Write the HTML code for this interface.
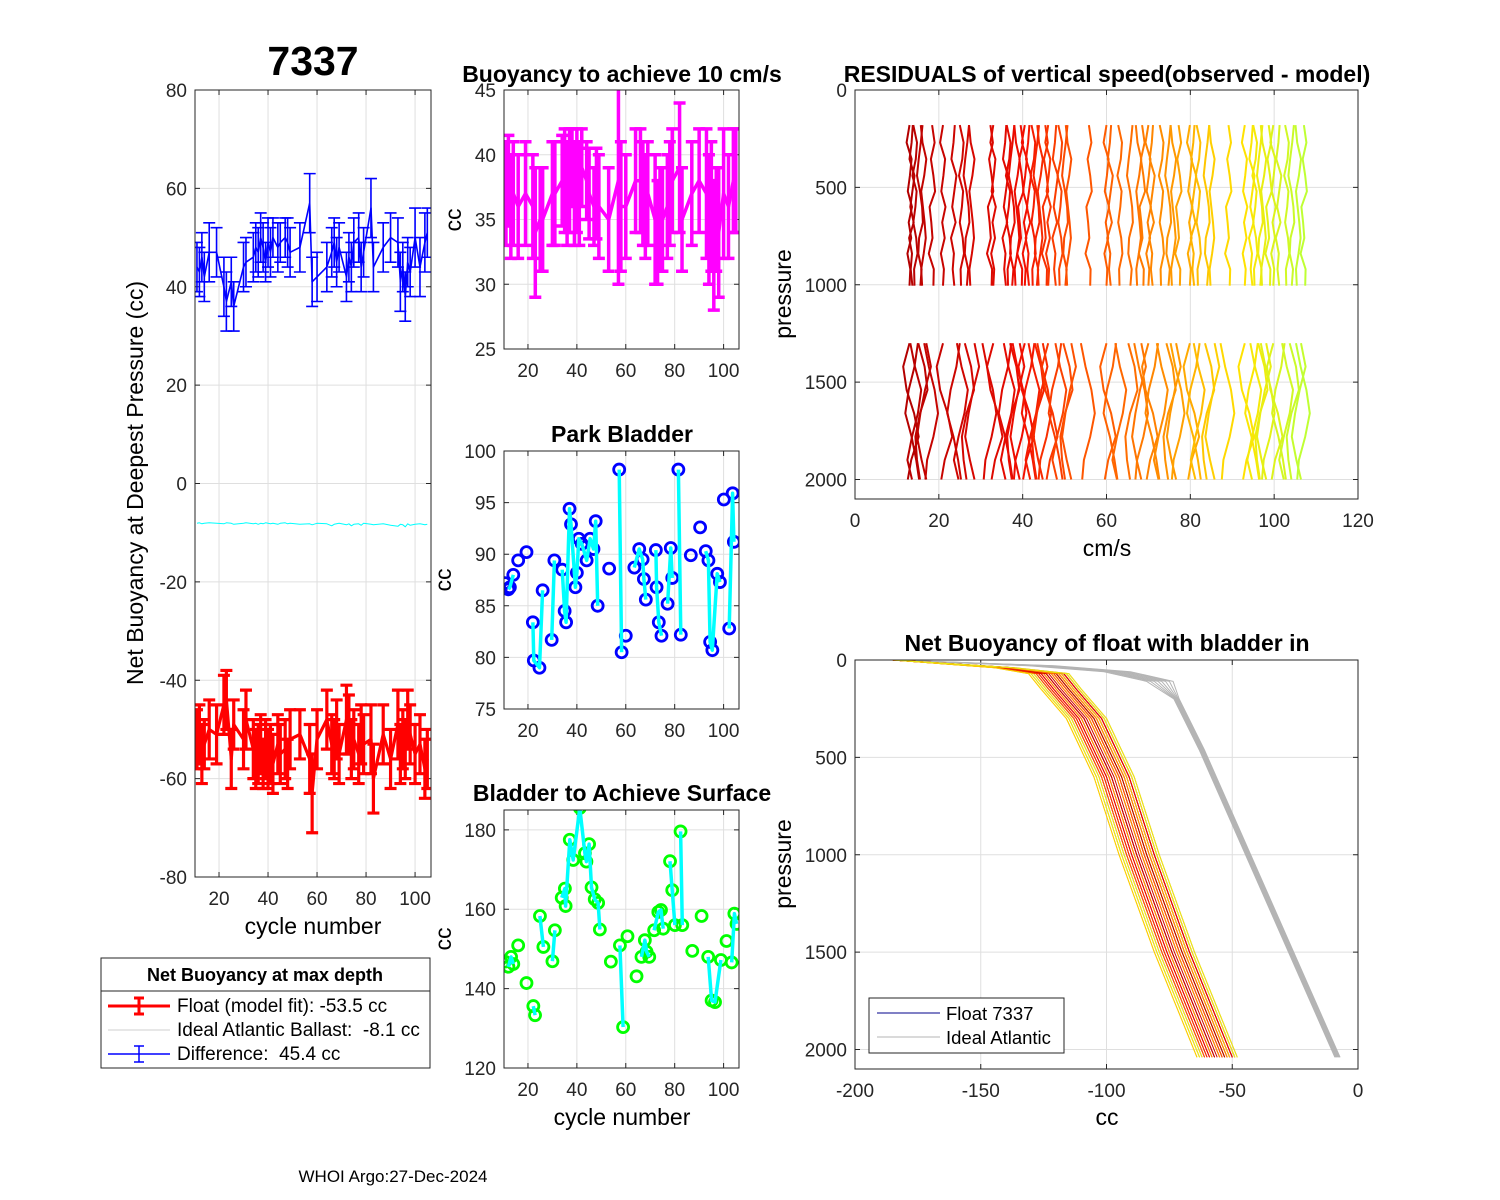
<!DOCTYPE html>
<html><head><meta charset="utf-8"><style>
body{margin:0;background:#fff}
svg{display:block;font-family:"Liberation Sans",Arial,sans-serif}
</style></head><body>
<svg id="fig" width="1500" height="1200" viewBox="0 0 1500 1200" xmlns="http://www.w3.org/2000/svg">
<rect width="1500" height="1200" fill="#fff"/>
<text x="313" y="75" font-size="41" font-weight="bold" text-anchor="middle">7337</text>
<text x="622" y="82" font-size="23" font-weight="bold" text-anchor="middle">Buoyancy to achieve 10 cm/s</text>
<text x="1107" y="82" font-size="23" font-weight="bold" text-anchor="middle">RESIDUALS of vertical speed(observed - model)</text>
<text x="622" y="442" font-size="23" font-weight="bold" text-anchor="middle">Park Bladder</text>
<text x="622" y="801" font-size="23" font-weight="bold" text-anchor="middle">Bladder to Achieve Surface</text>
<text x="1107" y="651" font-size="23" font-weight="bold" text-anchor="middle">Net Buoyancy of float with bladder in</text>
<text transform="translate(143,483) rotate(-90)" font-size="23" text-anchor="middle">Net Buoyancy at Deepest Pressure (cc)</text>
<text x="313" y="934" font-size="23" text-anchor="middle">cycle number</text>
<text x="622" y="1125" font-size="23" text-anchor="middle">cycle number</text>
<text transform="translate(461,220) rotate(-90)" font-size="23" text-anchor="middle">cc</text>
<text transform="translate(451,580) rotate(-90)" font-size="23" text-anchor="middle">cc</text>
<text transform="translate(451,939) rotate(-90)" font-size="23" text-anchor="middle">cc</text>
<text transform="translate(791,294) rotate(-90)" font-size="23" text-anchor="middle">pressure</text>
<text transform="translate(791,864) rotate(-90)" font-size="23" text-anchor="middle">pressure</text>
<text x="1107" y="556" font-size="23" text-anchor="middle">cm/s</text>
<text x="1107" y="1125" font-size="23" text-anchor="middle">cc</text>
<text x="393" y="1182" font-size="17" text-anchor="middle">WHOI Argo:27-Dec-2024</text>
</svg>
<script>
// ---------- data ----------
const cycles = [11,12,13,14,16,19,22,23,25,26,30,31,34,35,36,37,38,39,40,41,42,44,45,47,48,49,53,57,58,60,64,66,67,68,69,72,73,74,75,77,78,79,82,83,87,90,93,94,95,96,97,98,100,102,104,105];
const diffVal = [44,43,46,42,47,47,40,37,41,36,44,45,46,48,47,50,48,45,49,47,50,48,49,50,49,47,48,57,41,42,44,47,49,45,48,42,46,44,49,50,44,47,56,44,48,50,49,41,44,38,45,43,50,44,49,51];
const diffErr = [5,5,5,5,6,5,6,6,5,5,5,5,5,5,5,5,5,4,5,5,4,5,4,4,5,5,5,6,5,5,5,5,5,5,5,5,5,5,5,5,5,5,6,5,5,5,5,6,5,5,5,5,6,6,6,5];
const floatVal = [-52,-51,-55,-53,-50,-51,-45,-44,-56,-49,-52,-48,-54,-56,-55,-53,-57,-54,-56,-55,-57,-53,-55,-54,-57,-52,-51,-56,-63,-52,-48,-53,-54,-50,-55,-48,-49,-54,-52,-55,-51,-53,-52,-60,-51,-56,-49,-55,-52,-54,-48,-51,-55,-53,-58,-56];
const floatErr = [6,6,6,5,6,6,6,6,6,5,6,6,6,6,6,6,5,6,6,6,6,6,6,6,5,6,5,7,8,6,6,6,6,6,6,7,6,6,6,6,6,6,7,7,6,6,7,6,6,6,6,6,6,6,6,6];
const idealVal = [-8.1,-8.0,-8.2,-8.1,-8.0,-8.1,-8.2,-8.0,-8.1,-8.3,-8.1,-8.0,-8.2,-8.1,-8.3,-8.1,-8.2,-8.0,-8.1,-8.2,-8.1,-8.3,-8.1,-8.0,-8.2,-8.1,-8.3,-8.2,-8.4,-8.1,-8.2,-8.6,-8.3,-8.2,-8.1,-8.4,-8.2,-8.6,-8.3,-8.2,-8.5,-8.1,-8.3,-8.4,-8.2,-8.5,-8.7,-8.3,-8.4,-8.8,-8.2,-8.5,-8.3,-8.2,-8.4,-8.3];
const speedVal = [37,38,36,37,36,37,36,34,35,35,37,37,38,38,37,38,39,37,38,37,39,38,37,36,37,36,35,38,36,36,38,38,37,36,37,35,34,35,35,36,37,38,39,35,37,38,37,35,36,33,35,34,37,36,38,38];
const speedErr = [4,3.5,4,4,4,4,4,5,4,4,4,4,3.5,4,4,4,3,4,4,4,3,3,3.5,3,3.5,4,4,8,5,4,4,4,4,4,4,5,4,4,4,4,4,4,5,4,4,4,5,5,5,5,4,5,5,4,4,4];
const parkCyc = [10.6,null,12,12.6,14,null,16,null,19.4,null,22,22.4,24.7,26,null,29.7,30.8,null,34,35,35.6,37,37.6,39.4,40,40.8,42,44,45.4,46.8,47.7,48.5,null,53.2,null,57.3,58.3,null,60,null,63.5,65.5,66.9,67.4,68.2,null,72.3,72.6,73.5,74.6,null,77.1,78.4,79,null,81.5,82.5,null,86.6,null,90.4,null,92.7,93.8,94.5,95.4,97.4,98.5,null,100.1,null,102.3,103.7,104.2];
const parkVal = [87.2,null,86.6,86.8,88,null,89.4,null,90.2,null,83.4,79.7,79,86.5,null,81.7,89.4,null,88.5,84.5,83.4,94.4,92.9,86.8,88.2,91.5,91,89.4,91.5,90.5,93.2,85,null,88.6,null,98.2,80.5,null,82.1,null,88.7,90.5,89.5,87.6,85.6,null,90.4,86.8,83.4,82.1,null,85.2,90.6,87.7,null,98.2,82.2,null,89.9,null,92.6,null,90.3,89.4,81.5,80.7,88.1,87.3,null,95.3,null,82.8,95.9,91.2];
const surfCyc = [10.6,null,12,13.1,14,null,16,null,19.4,null,22.2,22.9,null,24.9,26.3,null,30,31,null,33.8,35.1,35.4,37.1,38.5,41.2,43.3,43.9,45,46,47.3,48.7,49.4,null,53.9,null,57.6,58.9,null,60.7,null,64.4,null,66.4,67.8,68.5,69.6,null,71.6,73.3,74.4,75.3,null,78.1,79,80.1,null,82.4,83.1,null,87.2,null,91,null,93.7,95.1,96.5,98.9,null,101.2,null,103.3,104.4,105.3];
const surfVal = [146.8,null,145.5,148,146.2,null,150.9,null,141.4,null,135.6,133.3,null,158.3,150.5,null,146.9,154.7,null,162.9,165.2,160.8,177.5,172.4,185.5,174.1,172,176.4,165.5,162.5,161.6,154.9,null,146.8,null,150.9,130.3,null,153.2,null,143.1,null,148,152.2,149.3,148,null,154.7,159.3,159.8,155.1,null,172.1,164.8,156,null,179.6,156,null,149.5,null,158.3,null,148,137,136.6,147.2,null,152,null,146.6,158.9,156.3];
const resCycle = [13,13.5,14.3,15.5,16.3,18.3,21,23.5,25.4,26.6,27.8,32.2,33,35.8,36.6,37.4,38.6,39.4,40.5,41.3,42.5,43.3,44.1,45.3,46.1,47.7,48.9,50.1,50.9,55.7,60,60.8,63.2,65.6,67.6,68.4,70,70.8,73.1,74.7,75.9,77.1,79.9,80.7,81.9,83.9,85.1,89,93,94.6,95.4,96.6,97.4,98.6,99.8,101,103,104.1,105.7,107];
const resPresUpper = [180,270,355,440,520,600,680,760,840,920,1005];
const resPresLower = [1300,1420,1540,1660,1780,1900,2000];
const resUpper = [
 [0,-0.7,0.5,0.1,-0.4,0.6,-0.2,0.4,-0.5,0.2,0],
 [0.3,0,-0.5,0.7,0.2,-0.3,0.5,-0.6,0.1,-0.2,0.2],
 [-0.4,0.5,0.2,-0.6,0.4,0.1,-0.4,0.3,0.6,-0.2,-0.1],
 [0.6,0.2,-0.3,-0.7,0,0.5,0.7,-0.2,-0.4,0.4,0.1],
 [-0.6,-0.2,0.7,0.2,-0.5,-0.1,0.3,0.6,0.1,-0.5,-0.3],
 [0.1,0.7,-0.2,0.4,0.8,-0.5,-0.1,0.2,-0.7,0.5,0.4]];
const resLower = [
 [-1.1,0,1.5,0.7,-0.7,-1.8,-0.7],
 [1.5,0.7,-0.7,-1.5,0,1.1,1.8],
 [0,-1.5,-0.7,1.1,2.2,0.4,-0.4],
 [-1.8,-0.7,0.7,1.5,0.4,-1.1,-1.5],
 [0.7,1.8,0.4,-0.7,-1.5,-0.4,0.7],
 [-0.4,1.1,1.8,0,-1.1,-0.7,0]];
const profPres = [0,40,70,150,300,600,1000,1500,2040];
const profBase = [-185,-140,-122,-117,-107,-96,-86,-72,-55];
const profOffset = [2,-3,5,-6,1,4,-8,3,-2,6,-4,0,7,-5,2,-9,4,-1,5,-7,3,-3,6,0,-6,2,5,-4,1,-8,3,7,-2,4,-5,0,6,-3,2,-7,5,1,-4,3,-6,0,4,-8,2,-2,5,-5,1,3,-9,6];
const idealPres = [0,30,60,110,200,460,2040];
const idealBase = [-185,-125,-95,-78,-72,-62,-8];
const idealOffset = [-4,-3,-2,-1,0,1,2,3];

// ---------- helpers ----------
const NS = 'http://www.w3.org/2000/svg';
const svg = document.getElementById('fig');
function mk(tag, attrs, parent) {
  const e = document.createElementNS(NS, tag);
  for (const k in attrs) e.setAttribute(k, attrs[k]);
  (parent || svg).appendChild(e);
  return e;
}
function axes(name, L, T, R, B, xmin, xmax, ymin, ymax, xt, yt, yrev) {
  const g = mk('g', {});
  
  
  const sx = v => L + (v - xmin) / (xmax - xmin) * (R - L);
  const sy = v => yrev ? T + (v - ymin) / (ymax - ymin) * (B - T) : B - (v - ymin) / (ymax - ymin) * (B - T);
  for (const t of xt) {
    const x = sx(t);
    const gl = mk('line', {x1: x, x2: x, y1: T, y2: B, stroke: '#dfdfdf', 'stroke-width': 1}, g);
    
    
    const tk = mk('path', {d: `M${x},${B}v-5M${x},${T}v5`, stroke: '#262626', 'stroke-width': 1}, g);
    
    
    const lb = mk('text', {x: x, y: B + 28, 'font-size': 19, 'text-anchor': 'middle', fill: '#262626'}, g);
    lb.textContent = t;
    
    
  }
  for (const t of yt) {
    const y = sy(t);
    const gl = mk('line', {x1: L, x2: R, y1: y, y2: y, stroke: '#dfdfdf', 'stroke-width': 1}, g);
    
    
    const tk = mk('path', {d: `M${L},${y}h5M${R},${y}h-5`, stroke: '#262626', 'stroke-width': 1}, g);
    
    
    const lb = mk('text', {x: L - 8, y: y + 7, 'font-size': 19, 'text-anchor': 'end', fill: '#262626'}, g);
    lb.textContent = t;
    
    
  }
  const clip = mk('clipPath', {id: name + '-clip'});
  mk('rect', {x: L, y: T, width: R - L, height: B - T}, clip);
  const plot = mk('g', {'clip-path': `url(#${name}-clip)`});
  
  
  const box = mk('rect', {x: L, y: T, width: R - L, height: B - T, fill: 'none', stroke: '#262626', 'stroke-width': 1});
  
  
  return {sx, sy, plot};
}
function polyline(ax, xs, ys, color, w, name) {
  let d = '', pen = false;
  for (let i = 0; i < xs.length; i++) {
    if (xs[i] === null || ys[i] === null) { pen = false; continue; }
    d += (pen ? 'L' : 'M') + ax.sx(xs[i]).toFixed(1) + ',' + ax.sy(ys[i]).toFixed(1);
    pen = true;
  }
  const p = mk('path', {d: d, fill: 'none', stroke: color, 'stroke-width': w, 'stroke-linejoin': 'round'}, ax.plot);
  
  
  return p;
}
function errorbars(ax, xs, ys, es, color, w, cap, name) {
  for (let i = 0; i < xs.length; i++) {
    const x = ax.sx(xs[i]), y1 = ax.sy(ys[i] - es[i]), y2 = ax.sy(ys[i] + es[i]);
    const p = mk('path', {d: `M${x},${y1}V${y2}M${x - cap},${y1}h${2 * cap}M${x - cap},${y2}h${2 * cap}`, stroke: color, 'stroke-width': w, fill: 'none'}, ax.plot);
    
    
  }
}
function markers(ax, xs, ys, color, name) {
  for (let i = 0; i < xs.length; i++) {
    if (xs[i] === null) continue;
    const c = mk('circle', {cx: ax.sx(xs[i]), cy: ax.sy(ys[i]), r: 5.5, fill: 'none', stroke: color, 'stroke-width': 2.8}, ax.plot);
    
    
  }
}
function cmap(t) {
  const stops = [[0, 0.7, 0, 0], [0.3, 0.95, 0.05, 0], [0.5, 1, 0.35, 0], [0.68, 1, 0.6, 0], [0.82, 1, 0.9, 0], [1, 0.75, 1, 0.2]];
  for (let i = 1; i < stops.length; i++) {
    if (t <= stops[i][0]) {
      const a = stops[i - 1], b = stops[i], f = (t - a[0]) / (b[0] - a[0]);
      const c = [1, 2, 3].map(k => Math.round(255 * (a[k] + f * (b[k] - a[k]))));
      return `rgb(${c[0]},${c[1]},${c[2]})`;
    }
  }
  return 'rgb(191,255,51)';
}

// ---------- panel 1: net buoyancy ----------
const a1 = axes('net-buoyancy-axes', 195, 90, 431, 877, 10.2, 106.5, -80, 80, [20, 40, 60, 80, 100], [-80, -60, -40, -20, 0, 20, 40, 60, 80], false);
errorbars(a1, cycles, diffVal, diffErr, '#0000ff', 1.6, 6, 'difference-errorbar');
polyline(a1, cycles, diffVal, '#0000ff', 1.6, 'difference-line');
errorbars(a1, cycles, floatVal, floatErr, '#ff0000', 3.2, 6, 'float-errorbar');
polyline(a1, cycles, floatVal, '#ff0000', 3.2, 'float-line');
polyline(a1, cycles, idealVal, '#00ffff', 1, 'ideal-ballast-line');

// ---------- panel 2: buoyancy for 10 cm/s ----------
const a2 = axes('speed-buoyancy-axes', 504, 90, 739, 349, 10.2, 106.3, 25, 45, [20, 40, 60, 80, 100], [25, 30, 35, 40, 45], false);
errorbars(a2, cycles, speedVal, speedErr, '#ff00ff', 3.5, 6, 'speed-buoyancy-errorbar');
polyline(a2, cycles, speedVal, '#ff00ff', 3.5, 'speed-buoyancy-line');

// ---------- panel 3: park bladder ----------
const a3 = axes('park-bladder-axes', 504, 451, 739, 709, 10.2, 106.3, 75, 100, [20, 40, 60, 80, 100], [75, 80, 85, 90, 95, 100], false);
markers(a3, parkCyc, parkVal, '#0000ff', 'park-marker');
polyline(a3, parkCyc, parkVal, '#00ffff', 3.5, 'park-line');

// ---------- panel 4: surface bladder ----------
const a4 = axes('surface-bladder-axes', 504, 810, 739, 1068, 10.2, 106.3, 120, 185, [20, 40, 60, 80, 100], [120, 140, 160, 180], false);
markers(a4, surfCyc, surfVal, '#00ff00', 'surface-marker');
polyline(a4, surfCyc, surfVal, '#00ffff', 3.5, 'surface-line');

// ---------- panel 5: residuals ----------
const a5 = axes('residuals-axes', 855, 90, 1358, 499, 0, 120, 0, 2100, [0, 20, 40, 60, 80, 100, 120], [0, 500, 1000, 1500, 2000], true);
for (let i = 0; i < resCycle.length; i++) {
  const col = cmap(i / (resCycle.length - 1));
  const up = resUpper[i % resUpper.length], lo = resLower[(i * 5 + 2) % resLower.length];
  polyline(a5, up.map(r => resCycle[i] + r), resPresUpper, col, 2, 'residual-profile-upper');
  polyline(a5, lo.map(r => resCycle[i] + r), resPresLower, col, 2, 'residual-profile-lower');
}

// ---------- panel 6: net buoyancy profiles ----------
const a6 = axes('buoyancy-profile-axes', 855, 660, 1358, 1069, -200, 0, 0, 2100, [-200, -150, -100, -50, 0], [0, 500, 1000, 1500, 2000], true);
for (let j = 0; j < idealOffset.length; j++) {
  polyline(a6, idealBase.map((v, k) => k === 0 ? v : v + idealOffset[j] * (k < 4 ? 1.5 : 0.3)), idealPres, '#b4b4b4', 1, 'ideal-atlantic-profile');
}
for (let i = 0; i < profOffset.length; i++) {
  const col = cmap(((i * 7) % profOffset.length) / (profOffset.length - 1));
  polyline(a6, profBase.map((v, k) => k < 1 ? v : v + profOffset[i] * (k < 2 ? 0.5 : 1)), profPres, col, 1, 'float-profile');
}

// ---------- legend (bottom right) ----------
const lg2 = mk('g', {});


mk('rect', {x: 869, y: 998, width: 195, height: 55, fill: '#fff', stroke: '#262626', 'stroke-width': 1}, lg2);
mk('line', {x1: 877, x2: 940, y1: 1013, y2: 1013, stroke: '#00008b', 'stroke-width': 1}, lg2);
mk('line', {x1: 877, x2: 940, y1: 1037, y2: 1037, stroke: '#b4b4b4', 'stroke-width': 1}, lg2);
const l2a = mk('text', {x: 946, y: 1020, 'font-size': 18.5}, lg2);
l2a.textContent = 'Float 7337';


const l2b = mk('text', {x: 946, y: 1044, 'font-size': 18.5}, lg2);
l2b.textContent = 'Ideal Atlantic';



// ---------- legend (bottom left) ----------
const lg1 = mk('g', {});


mk('rect', {x: 101, y: 958, width: 329, height: 110, fill: '#fff', stroke: '#262626', 'stroke-width': 1}, lg1);
mk('line', {x1: 101, x2: 430, y1: 991, y2: 991, stroke: '#262626', 'stroke-width': 1}, lg1);
const lt = mk('text', {x: 265, y: 981, 'font-size': 18, 'font-weight': 'bold', 'text-anchor': 'middle'}, lg1);
lt.textContent = 'Net Buoyancy at max depth';


mk('path', {d: 'M108,1006H170M139,998V1014M134,998h10M134,1014h10', stroke: '#ff0000', 'stroke-width': 3, fill: 'none'}, lg1);
mk('line', {x1: 108, x2: 170, y1: 1030, y2: 1030, stroke: '#cfcfcf', 'stroke-width': 1}, lg1);
mk('path', {d: 'M108,1054H170M139,1046V1062M134,1046h10M134,1062h10', stroke: '#0000ff', 'stroke-width': 1.5, fill: 'none'}, lg1);
const e1 = mk('text', {x: 177, y: 1012, 'font-size': 19}, lg1);
e1.textContent = 'Float (model fit): -53.5 cc';


const e2 = mk('text', {x: 177, y: 1036, 'font-size': 19}, lg1);
e2.textContent = 'Ideal Atlantic Ballast: \u00a0-8.1 cc';


const e3 = mk('text', {x: 177, y: 1060, 'font-size': 19}, lg1);
e3.textContent = 'Difference: \u00a045.4 cc';


</script>
</body></html>
